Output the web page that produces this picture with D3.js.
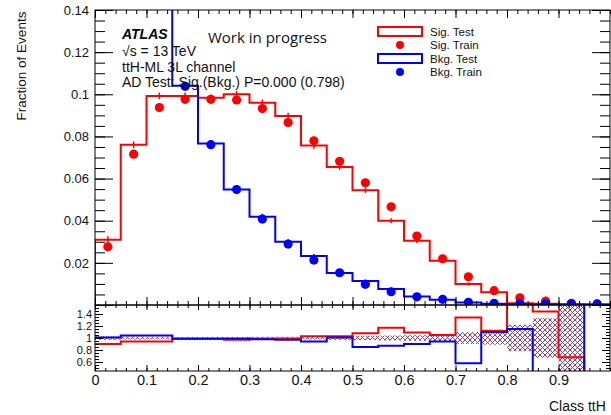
<!DOCTYPE html>
<html>
<head>
<meta charset="utf-8">
<script src="https://cdn.jsdelivr.net/npm/d3@7"></script>
<style>
  body { margin: 0; background: #fff; }
  svg { font-family: "Liberation Sans", Arial, sans-serif; }
  .tick line { stroke: #000; }
  .tick text { fill: #111; }
  .frame { fill: none; stroke: #000; stroke-width: 1; }
</style>
</head>
<body>
<svg id="chart" width="611" height="415"></svg>
<script>
// bins of the classifier output (lower edges), width 0.05
const binLow = [0.00, 0.05, 0.10, 0.15, 0.20, 0.25, 0.30, 0.35, 0.40, 0.45,
                0.50, 0.55, 0.60, 0.65, 0.70, 0.75, 0.80, 0.85, 0.90, 0.95];
const binWidth = 0.05;

// fraction of events
const sigTest    = [0.031, 0.076, 0.0992, 0.0992, 0.0983, 0.1000, 0.0960, 0.0897, 0.0757, 0.0655,
                    0.0545, 0.0400, 0.0305, 0.0210, 0.0100, 0.0060, 0.0008, 0.0006, 0.0004, 0.0003];
const sigTestErr = [0.0016, 0.0016, 0.0016, 0.0016, 0.0016, 0.0016, 0.0015, 0.0015, 0.0015, 0.0014,
                    0.0013, 0.0012, 0.0011, 0.0010, 0.0008, 0.0006, 0.0002, 0.0002, 0.0001, 0.0001];
const sigTrain   = [0.0276, 0.0716, 0.0937, 0.0976, 0.0976, 0.0973, 0.0932, 0.0866, 0.0779, 0.0682,
                    0.0580, 0.0466, 0.0327, 0.0219, 0.0134, 0.0068, 0.0034, 0.0018, 0.0008, 0.0004];
const bkgTest    = [null, null, null, 0.1040, 0.0766, 0.0548, 0.0419, 0.0300, 0.0232, 0.0152,
                    0.0114, 0.0076, 0.0040, 0.0025, 0.0012, 0.0006, 0.0004, 0.0002, 0.0002, 0.0001];
const bkgTestErr = [null, null, null, 0.0016, 0.0015, 0.0014, 0.0014, 0.0012, 0.0010, 0.0008,
                    0.0007, 0.0006, 0.0004, 0.0003, 0.0002, 0.0002, 0.0001, 0.0001, 0.0001, 0.0001];
const bkgTrain   = [null, null, null, 0.1038, 0.0761, 0.0548, 0.0408, 0.0289, 0.0213, 0.0153,
                    0.0098, 0.0063, 0.0039, 0.0027, 0.0013, 0.0008, 0.0007, 0.0007, 0.0006, 0.0005];

// train / test ratio per bin, and half width of the hatched band
const sigRatio = [0.90, 0.94, 0.94, 0.985, 0.985, 0.97, 0.99, 0.99, 1.03, 1.03,
                  1.08, 1.17, 1.09, 1.05, 1.34, 1.12, 2.00, 1.44, 0.68, 0.30];
const bkgRatio = [1.01, 1.04, 1.04, 0.99, 0.99, 0.99, 0.98, 0.97, 0.94, 1.01,
                  0.85, 0.87, 0.90, 0.94, 0.58, 1.10, 1.15, 0.00, 0.00, 2.00];
const bandErr  = [0.03, 0.025, 0.02, 0.015, 0.015, 0.015, 0.02, 0.02, 0.025, 0.03,
                  0.035, 0.04, 0.045, 0.055, 0.10, 0.11, 0.22, 0.33, 0.70, null];

const xTicks = [0, 0.1, 0.2, 0.3, 0.4, 0.5, 0.6, 0.7, 0.8, 0.9];
const yTicksMain = [0, 0.02, 0.04, 0.06, 0.08, 0.1, 0.12, 0.14];
const yTicksRatio = [0.6, 0.8, 1, 1.2, 1.4];
const infoLines = ["\u221As = 13 TeV", "ttH-ML 3L channel", "AD Test: Sig.(Bkg.) P=0.000 (0.798)"];
const legendItems = [
  {label: "Sig. Test",  color: "#f00", kind: "box"},
  {label: "Sig. Train", color: "#f00", kind: "dot"},
  {label: "Bkg. Test",  color: "#00f", kind: "box"},
  {label: "Bkg. Train", color: "#00f", kind: "dot"}
];

const frame = {left: 95, right: 610, top: 10, mid: 305, bottom: 371};

const svg = d3.select("#chart");
const x  = d3.scaleLinear().domain([0, 1]).range([frame.left, frame.right]);
const y  = d3.scaleLinear().domain([0, 0.14]).range([frame.mid, frame.top]);
const yR = d3.scaleLinear().domain([0.45, 1.55]).range([frame.bottom, frame.mid]);

const defs = svg.append("defs");
defs.append("clipPath").attr("id", "clipMain").append("rect")
  .attr("x", frame.left).attr("y", frame.top)
  .attr("width", frame.right - frame.left).attr("height", frame.mid - frame.top);
defs.append("clipPath").attr("id", "clipRatio").append("rect")
  .attr("x", frame.left).attr("y", frame.mid)
  .attr("width", frame.right - frame.left).attr("height", frame.bottom - frame.mid);

// red / blue cross hatch for the uncertainty band
const hatch = defs.append("pattern").attr("id", "hatch")
  .attr("width", 5).attr("height", 5).attr("patternUnits", "userSpaceOnUse");
hatch.append("path").attr("d", "M0,0L5,5M-1,4L1,6M4,-1L6,1").attr("stroke", "#e33").attr("stroke-width", 1);
hatch.append("path").attr("d", "M0,5L5,0M-1,1L1,-1M4,6L6,4").attr("stroke", "#44f").attr("stroke-width", 1);

// step outline through the bins, starting from a given level
function stepLine(vals, ys, start) {
  let pts = [];
  vals.forEach((v, i) => {
    if (v == null) return;
    if (!pts.length) pts.push([x(binLow[i]), ys(start)]);
    pts.push([x(binLow[i]), ys(v)], [x(binLow[i] + binWidth), ys(v)]);
  });
  return d3.line()(pts);
}

// ---- main pad
const main = svg.append("g").attr("clip-path", "url(#clipMain)");

main.append("path").attr("d", stepLine(sigTest, y, 0))
  .attr("fill", "none").attr("stroke", "#f00").attr("stroke-width", 2);
main.append("path").attr("d", stepLine(bkgTest, y, y.domain()[1] + 0.01)) // bkg comes down from above the frame
  .attr("fill", "none").attr("stroke", "#00f").attr("stroke-width", 2);

function errBars(vals, errs, color) {
  main.selectAll(null)
    .data(vals.map((v, i) => ({v: v, e: errs[i], c: binLow[i] + binWidth / 2})).filter(d => d.v != null))
    .enter().append("line")
    .attr("x1", d => x(d.c)).attr("x2", d => x(d.c))
    .attr("y1", d => y(d.v - d.e)).attr("y2", d => y(d.v + d.e))
    .attr("stroke", color).attr("stroke-width", 1.5);
}
errBars(sigTest, sigTestErr, "#f00");
errBars(bkgTest, bkgTestErr, "#00f");

function dots(vals, color) {
  main.selectAll(null)
    .data(vals.map((v, i) => ({v: v, c: binLow[i] + binWidth / 2})).filter(d => d.v != null))
    .enter().append("circle")
    .attr("cx", d => x(d.c)).attr("cy", d => y(d.v))
    .attr("r", 4.6).attr("fill", color);
}
dots(sigTrain, "#f00");
dots(bkgTrain, "#00f");

// ---- ratio pad
const ratio = svg.append("g").attr("clip-path", "url(#clipRatio)");

ratio.selectAll("rect.band")
  .data(bandErr.map((e, i) => ({e: e, lo: binLow[i]})).filter(d => d.e != null))
  .enter().append("rect")
  .attr("class", "band")
  .attr("x", d => x(d.lo)).attr("width", x(binWidth) - x(0))
  .attr("y", d => yR(1 + d.e)).attr("height", d => yR(1 - d.e) - yR(1 + d.e))
  .attr("fill", "url(#hatch)");

ratio.append("path").attr("d", stepLine(sigRatio, yR, sigRatio[0]))
  .attr("fill", "none").attr("stroke", "#f00").attr("stroke-width", 2);
ratio.append("path").attr("d", stepLine(bkgRatio, yR, bkgRatio[0]))
  .attr("fill", "none").attr("stroke", "#00f").attr("stroke-width", 2);

// ---- axes, ROOT style ticks pointing inwards
function drawAxis(axis, tx, ty, fontSize) {
  let g = svg.append("g").attr("transform", `translate(${tx},${ty})`).call(axis);
  g.select(".domain").remove();
  g.selectAll("text").attr("font-size", fontSize);
  return g;
}
const minorX = d3.range(0, 1.0001, 0.02);
const minorY = d3.range(0, 0.1401, 0.005);
const minorR = d3.range(0.5, 1.5001, 0.05);

// main pad
drawAxis(d3.axisLeft(y).tickValues(yTicksMain).tickSize(-18).tickPadding(6)
  .tickFormat(d => d === 0 ? "" : String(d)), frame.left, 0, 13);
drawAxis(d3.axisLeft(y).tickValues(minorY).tickSize(-10).tickFormat(""), frame.left, 0);
drawAxis(d3.axisRight(y).tickValues(yTicksMain).tickSize(-18).tickFormat(""), frame.right, 0);
drawAxis(d3.axisRight(y).tickValues(minorY).tickSize(-10).tickFormat(""), frame.right, 0);
drawAxis(d3.axisTop(x).tickValues(xTicks).tickSize(-8).tickFormat(""), 0, frame.top);
drawAxis(d3.axisTop(x).tickValues(minorX).tickSize(-4).tickFormat(""), 0, frame.top);
drawAxis(d3.axisBottom(x).tickValues(xTicks).tickSize(-8).tickFormat(""), 0, frame.mid);
drawAxis(d3.axisBottom(x).tickValues(minorX).tickSize(-4).tickFormat(""), 0, frame.mid);

// ratio pad
drawAxis(d3.axisTop(x).tickValues(xTicks).tickSize(-5).tickFormat(""), 0, frame.mid);
drawAxis(d3.axisTop(x).tickValues(minorX).tickSize(-3).tickFormat(""), 0, frame.mid);
drawAxis(d3.axisBottom(x).tickValues(xTicks).tickSize(-6).tickPadding(4)
  .tickFormat(d => String(d)), 0, frame.bottom, 14.5);
drawAxis(d3.axisBottom(x).tickValues(minorX).tickSize(-3).tickFormat(""), 0, frame.bottom);
drawAxis(d3.axisLeft(yR).tickValues(yTicksRatio).tickSize(-8).tickPadding(3)
  .tickFormat(d => String(d)), frame.left, 0, 11);
drawAxis(d3.axisLeft(yR).tickValues(minorR).tickSize(-4).tickFormat(""), frame.left, 0);
drawAxis(d3.axisRight(yR).tickValues(yTicksRatio).tickSize(-8).tickFormat(""), frame.right, 0);
drawAxis(d3.axisRight(yR).tickValues(minorR).tickSize(-4).tickFormat(""), frame.right, 0);

svg.append("rect").attr("class", "frame")
  .attr("x", frame.left).attr("y", frame.top)
  .attr("width", frame.right - frame.left).attr("height", frame.mid - frame.top);
svg.append("rect").attr("class", "frame")
  .attr("x", frame.left).attr("y", frame.mid)
  .attr("width", frame.right - frame.left).attr("height", frame.bottom - frame.mid);

// ---- titles
svg.append("text")
  .attr("transform", `translate(26,66) rotate(-90)`)
  .attr("text-anchor", "middle").attr("font-size", 13.5).attr("fill", "#111")
  .text("Fraction of Events");
svg.append("text")
  .attr("x", 549).attr("y", 411).attr("font-size", 14).attr("fill", "#111")
  .text("Class ttH");

// ---- labels
svg.append("text").attr("x", 122).attr("y", 39)
  .attr("font-size", 14).attr("font-weight", "bold").attr("font-style", "italic")
  .text("ATLAS");
svg.append("text").attr("x", 208).attr("y", 43)
  .attr("font-family", "'Open Sans', sans-serif").attr("font-size", 15).attr("fill", "#111")
  .text("Work in progress");
svg.selectAll("text.info")
  .data(infoLines)
  .enter().append("text")
  .attr("class", "info")
  .attr("x", 122).attr("y", (d, i) => 56 + i * 15.5)
  .attr("font-size", 14).attr("fill", "#111")
  .text(d => d);

// ---- legend
const legend = svg.append("g").attr("transform", "translate(378,27)");
legendItems.forEach((d, i) => {
  let row = legend.append("g").attr("transform", `translate(0,${i * 13.5})`);
  if (d.kind === "box") {
    row.append("rect").attr("x", 0).attr("y", 0).attr("width", 44).attr("height", 9)
      .attr("fill", "#fff").attr("stroke", d.color).attr("stroke-width", 2);
  } else {
    row.append("circle").attr("cx", 22).attr("cy", 4.5).attr("r", 4).attr("fill", d.color);
  }
  row.append("text").attr("x", 52).attr("y", 8.5)
    .attr("font-size", 11.5).attr("fill", "#111").text(d.label);
});
</script>
</body>
</html>
